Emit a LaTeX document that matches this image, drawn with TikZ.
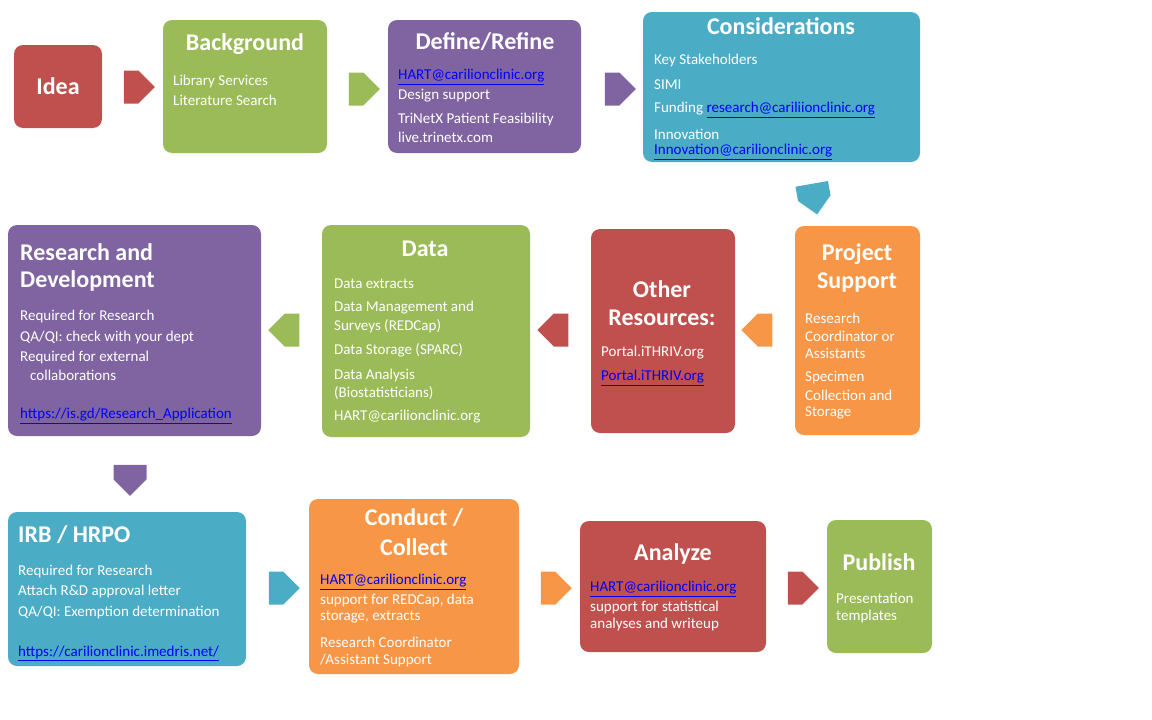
\documentclass[tikz,border=0pt]{standalone}
\usepackage{fontspec}
\setmainfont{Carlito}
\usetikzlibrary{shapes.arrows}
\definecolor{cred}{HTML}{C0504D}
\definecolor{cgreen}{HTML}{9BBB59}
\definecolor{cpurple}{HTML}{8064A2}
\definecolor{cteal}{HTML}{4BACC6}
\definecolor{corange}{HTML}{F79646}
\definecolor{linkblue}{HTML}{0000FF}
\newcommand{\lk}[1]{\textcolor{linkblue}{\underline{#1}}}
\begin{document}
\begin{tikzpicture}[x=1pt,y=-1pt,
  box/.style={rounded corners=9pt,inner sep=0pt,anchor=north west},
  ttl/.style={text=white,font=\fontsize{24}{26}\selectfont\bfseries,inner sep=0pt},
  bd/.style={text=white,font=\fontsize{15}{17}\selectfont,anchor=west,inner sep=0pt},
  arr/.style={single arrow,minimum height=31pt,minimum width=33pt,single arrow head extend=0pt,inner sep=0pt,single arrow tip angle=90,anchor=center}]
\useasboundingbox (0,0) rectangle (1152,720);
\newcommand{\bx}[6]{\fill[#6,rounded corners=9pt] (#2,#3) rectangle (#4,#5) node[pos=0.5,inner sep=0pt] (#1) {};}
\bx{idea}{14}{45}{102}{128}{cred}
\bx{bg}{163}{20}{327}{153}{cgreen}
\bx{def}{388}{20}{581}{153}{cpurple}
\bx{con}{643}{12}{920}{162}{cteal}
\bx{rd}{8}{225}{261}{436}{cpurple}
\bx{data}{322}{225}{530}{437}{cgreen}
\bx{oth}{591}{229}{735}{433}{cred}
\bx{ps}{795}{226}{920}{435}{corange}
\bx{irb}{8}{512}{246}{666}{cteal}
\bx{cc}{309}{499}{519}{674}{corange}
\bx{an}{580}{521}{766}{652}{cred}
\bx{pub}{827}{520}{932}{653}{cgreen}
% arrows
\node[arr,fill=cred] (a1) at (131,87) {};
\node[arr,fill=cgreen] (a2) at (356,89) {};
\node[arr,fill=cpurple] (a3) at (612,89) {};
\node[arr,fill=cteal,rotate=-80] (a4) at (813,191) {};
\node[arr,fill=corange,rotate=180] (a5) at (765,330) {};
\node[arr,fill=cred,rotate=180] (a6) at (561,330) {};
\node[arr,fill=cgreen,rotate=180] (a7) at (292,330) {};
\node[arr,fill=cpurple,rotate=-90] (a8) at (130,472) {};
\node[arr,fill=cteal] (a9) at (276,588) {};
\node[arr,fill=corange] (a10) at (548,588) {};
\node[arr,fill=cred] (a11) at (795,588) {};
% titles
\node[ttl] (t1) at (58,86) {Idea};
\node[ttl] (t2) at (245,44) {Background};
\node[ttl] (t3) at (485,42) {Define/Refine};
\node[ttl] (t4) at (781,26) {Considerations};
\node[ttl,anchor=west] (t5a) at (20,252) {Research and};
\node[ttl,anchor=west] (t5b) at (20,281) {Development};
\node[ttl] (t6) at (425,249) {Data};
\node[ttl] (t7a) at (662,289) {Other};
\node[ttl] (t7b) at (662,318) {Resources:};
\node[ttl] (t8a) at (857,254) {Project};
\node[ttl] (t8b) at (857,283) {Support};
\node[ttl,anchor=west] (t9) at (18,535) {IRB / HRPO};
\node[ttl] (t10a) at (414,518) {Conduct /};
\node[ttl] (t10b) at (414,547) {Collect};
\node[ttl] (t11) at (673,554) {Analyze};
\node[ttl] (t12) at (879,562) {Publish};
% body
\node[bd] (b1) at (173,81) {Library Services};
\node[bd] (b2) at (173,100) {Literature Search};
\node[bd] (b3) at (398,77) {\lk{HART@carilionclinic.org}};
\node[bd] (b4) at (398,96) {Design support};
\node[bd] (b5) at (398,119) {TriNetX Patient Feasibility};
\node[bd] (b6) at (398,137) {live.trinetx.com};
\node[bd] (b7) at (654,61) {Key Stakeholders};
\node[bd] (b8) at (654,85) {SIMI};
\node[bd] (b9) at (654,110) {Funding \lk{research@cariliionclinic.org}};
\node[bd] (b10) at (654,134) {Innovation};
\node[bd] (b11) at (654,152) {\lk{Innovation@carilionclinic.org}};
\node[bd] (b12) at (20,316) {Required for Research};
\node[bd] (b13) at (20,337) {QA/QI: check with your dept};
\node[bd] (b14) at (20,357) {Required for external};
\node[bd] (b15) at (30,375) {collaborations};
\node[bd] (b16) at (20,416) {\lk{https://is.gd/Research\_Application}};
\node[bd] (b17) at (334,284) {Data extracts};
\node[bd] (b18) at (334,308) {Data Management and};
\node[bd] (b19) at (334,326) {Surveys (REDCap)};
\node[bd] (b20) at (334,350) {Data Storage (SPARC)};
\node[bd] (b21) at (334,375) {Data Analysis};
\node[bd] (b22) at (334,393) {(Biostatisticians)};
\node[bd] (b23) at (334,417) {HART@carilionclinic.org};
\node[bd] (b24) at (601,353) {Portal.iTHRIV.org};
\node[bd] (b25) at (601,378) {\lk{Portal.iTHRIV.org}};
\node[bd] (b26) at (805,318) {Research};
\node[bd] (b27) at (805,336) {Coordinator or};
\node[bd] (b28) at (805,353) {Assistants};
\node[bd] (b29) at (805,378) {Specimen};
\node[bd] (b30) at (805,395) {Collection and};
\node[bd] (b31) at (805,413) {Storage};
\node[bd] (b32) at (18,571) {Required for Research};
\node[bd] (b33) at (18,591) {Attach R\&D approval letter};
\node[bd] (b34) at (18,612) {QA/QI: Exemption determination};
\node[bd] (b35) at (18,653) {\lk{https://carilionclinic.imedris.net/}};
\node[bd] (b36) at (320,582) {\lk{HART@carilionclinic.org}};
\node[bd] (b37) at (320,600) {support for REDCap, data};
\node[bd] (b38) at (320,617) {storage, extracts};
\node[bd] (b39) at (320,642) {Research Coordinator};
\node[bd] (b40) at (320,660) {/Assistant Support};
\node[bd] (b41) at (590,589) {\lk{HART@carilionclinic.org}};
\node[bd] (b42) at (590,607) {support for statistical};
\node[bd] (b43) at (590,624) {analyses and writeup};
\node[bd] (b44) at (836,598) {Presentation};
\node[bd] (b45) at (836,616) {templates};
\end{tikzpicture}
\end{document}
